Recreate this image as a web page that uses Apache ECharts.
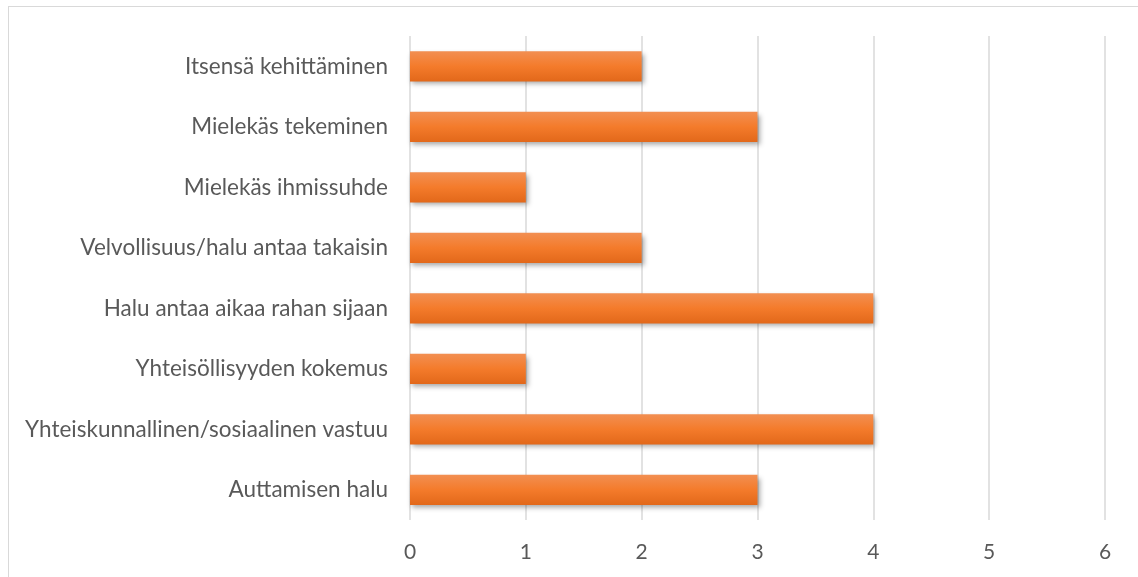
<!DOCTYPE html>
<html>
<head>
<meta charset="utf-8">
<style>
  html, body { margin: 0; padding: 0; background: #fff; overflow: hidden; }
  #frame { position: absolute; left: 8px; top: 6px; width: 1140px; height: 580px; border: 1.5px solid #d9d9d9; box-sizing: border-box; }
  #chart { position: absolute; left: 0; top: 0; width: 1138px; height: 577px; }
</style>
<script src="https://cdn.jsdelivr.net/npm/echarts@6/dist/echarts.min.js"></script>
</head>
<body>
<div id="frame"></div>
<div id="chart"></div>
<script>
  // kategoriat alhaalta ylös
  var categories = [
    'Auttamisen halu',
    'Yhteiskunnallinen/sosiaalinen vastuu',
    'Yhteisöllisyyden kokemus',
    'Halu antaa aikaa rahan sijaan',
    'Velvollisuus/halu antaa takaisin',
    'Mielekäs ihmissuhde',
    'Mielekäs tekeminen',
    'Itsensä kehittäminen'
  ];
  var values = [3, 4, 1, 4, 2, 1, 3, 2];
  var axisMin = 0, axisMax = 6, axisStep = 1;

  var chart = echarts.init(document.getElementById('chart'), null, { renderer: 'canvas' });
  var font = 'Lato, "Open Sans", sans-serif';

  chart.setOption({
    animation: false,
    grid: { left: 410, right: 33, top: 36, bottom: 57, containLabel: false },
    xAxis: {
      type: 'value',
      min: axisMin, max: axisMax, interval: axisStep,
      axisLine: { show: false },
      axisTick: { show: false },
      splitLine: { show: true, lineStyle: { color: '#d9d9d9', width: 1.5 } },
      axisLabel: { color: '#595959', fontSize: 21, fontFamily: font, margin: 22 }
    },
    yAxis: {
      type: 'category',
      data: categories,
      axisLine: { show: false },
      axisTick: { show: false },
      axisLabel: { color: '#595959', fontSize: 22.5, fontFamily: font, margin: 22 }
    },
    series: [{
      type: 'bar',
      data: values,
      barCategoryGap: '50%',
      itemStyle: {
        color: new echarts.graphic.LinearGradient(0, 0, 0, 1, [
          { offset: 0, color: '#f28f52' },
          { offset: 0.5, color: '#f47b2b' },
          { offset: 1, color: '#e2681a' }
        ]),
        shadowColor: 'rgba(0,0,0,0.35)',
        shadowBlur: 5,
        shadowOffsetX: 2,
        shadowOffsetY: 3
      }
    }]
  });
</script>
</body>
</html>
